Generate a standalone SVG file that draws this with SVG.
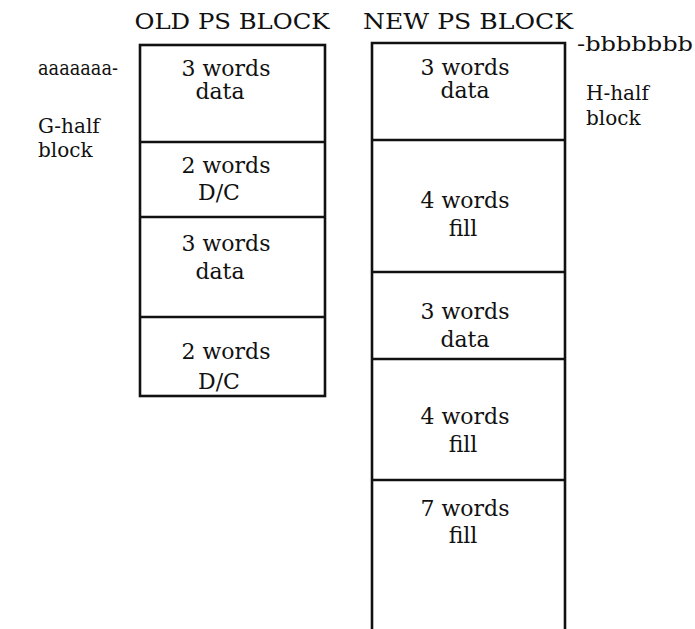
<svg xmlns="http://www.w3.org/2000/svg" width="695" height="629" viewBox="0 0 695 629">
<style>
text{font-family:"DejaVu Serif","Liberation Serif",serif;font-size:22px;fill:#111}
.c{text-anchor:middle}
.t{font-size:22px}
.l{font-size:20px}
.box{fill:none;stroke:#111;stroke-width:2.6}
.div{stroke:#111;stroke-width:2.6}
</style>
<rect width="695" height="629" fill="#fff"/>
<g id="labels">
<text x="38" y="75" class="l" textLength="80" lengthAdjust="spacingAndGlyphs">aaaaaaa-</text>
<text x="38" y="133" class="l">G-half</text>
<text x="38" y="157" class="l">block</text>
<text x="577" y="51" class="l" textLength="116" lengthAdjust="spacingAndGlyphs">-bbbbbbb</text>
<text x="586" y="100" class="l">H-half</text>
<text x="586" y="125" class="l">block</text>
<text x="232" y="29" class="c t" textLength="195" lengthAdjust="spacingAndGlyphs">OLD PS BLOCK</text>
<text x="468" y="29" class="c t" textLength="210" lengthAdjust="spacingAndGlyphs">NEW PS BLOCK</text>
</g>
<g id="old-block">
<rect class="box" x="140" y="45" width="185" height="351"/>
<line class="div" x1="140" y1="142" x2="325" y2="142"/>
<line class="div" x1="140" y1="217" x2="325" y2="217"/>
<line class="div" x1="140" y1="317" x2="325" y2="317"/>
</g>
<g id="old-1"><text x="226" y="76" class="c">3 words</text><text x="220" y="99" class="c">data</text></g>
<g id="old-2"><text x="226" y="173" class="c">2 words</text><text x="219" y="200" class="c">D/C</text></g>
<g id="old-3"><text x="226" y="251" class="c">3 words</text><text x="220" y="279" class="c">data</text></g>
<g id="old-4"><text x="226" y="359" class="c">2 words</text><text x="219" y="389" class="c">D/C</text></g>
<g id="new-block">
<path class="box" d="M372 629 V43 H565 V629"/>
<line class="div" x1="372" y1="140" x2="565" y2="140"/>
<line class="div" x1="372" y1="272" x2="565" y2="272"/>
<line class="div" x1="372" y1="359" x2="565" y2="359"/>
<line class="div" x1="372" y1="480" x2="565" y2="480"/>
</g>
<g id="new-1"><text x="465" y="75" class="c">3 words</text><text x="465" y="98" class="c">data</text></g>
<g id="new-2"><text x="465" y="208" class="c">4 words</text><text x="463" y="236" class="c">fill</text></g>
<g id="new-3"><text x="465" y="319" class="c">3 words</text><text x="465" y="347" class="c">data</text></g>
<g id="new-4"><text x="465" y="424" class="c">4 words</text><text x="463" y="452" class="c">fill</text></g>
<g id="new-5"><text x="465" y="516" class="c">7 words</text><text x="463" y="543" class="c">fill</text></g>
</svg>
